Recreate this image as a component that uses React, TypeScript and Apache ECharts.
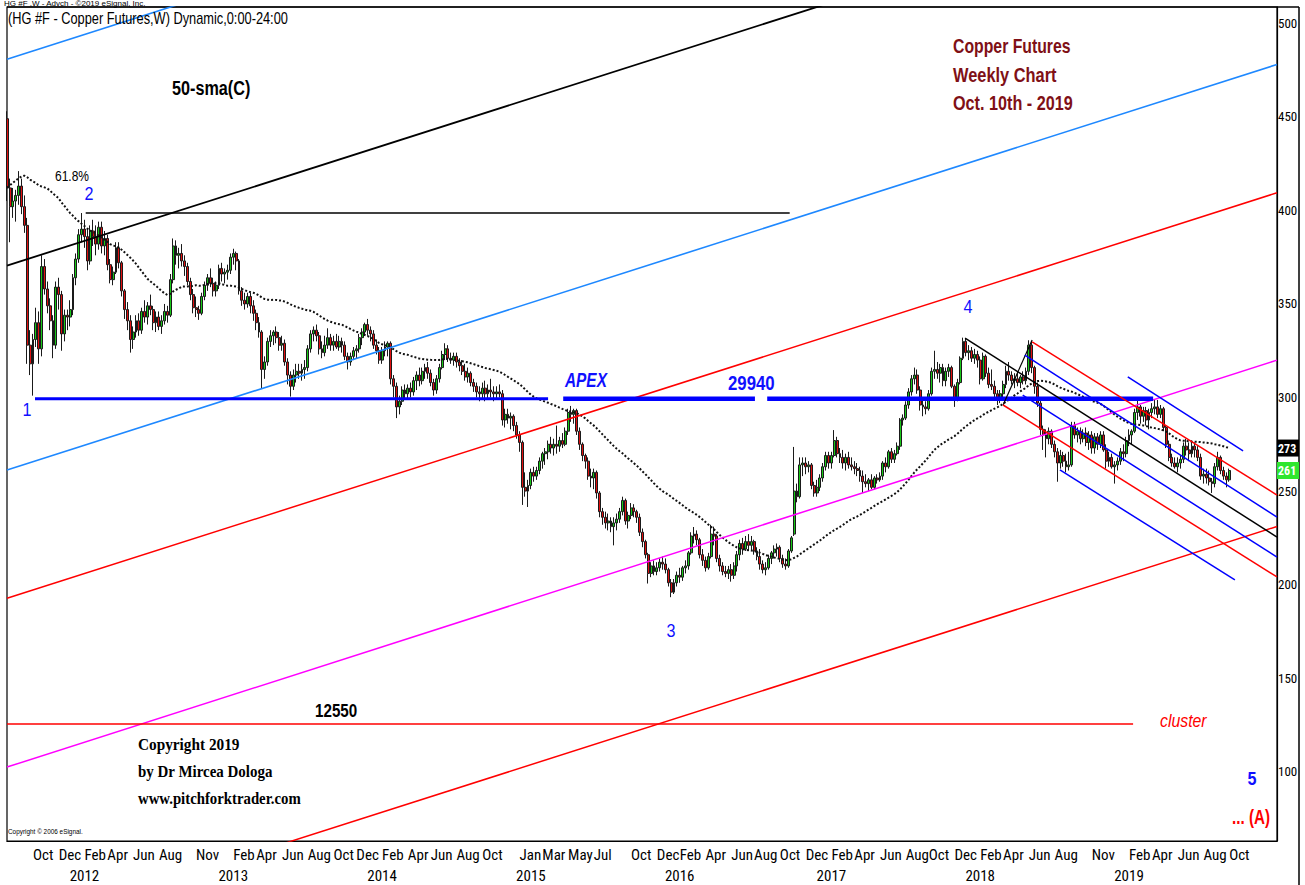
import React, { useEffect, useRef } from "react";
import * as echarts from "echarts";

// ---------------- DATA ----------------
// Weekly bars start Monday 2011-08-01; values in cents/lb, each row = [open, high, low, close]
const FIRST_BAR = "2011-08-01";

const ohlc2011 = [
  [449,453,405,412],[412,417,383,402],[402,412,396,405],[405,411,394,408],[408,421,403,413],
  [413,417,398,402],[402,408,388,392],[392,396,318,328],[328,336,312,318],[318,334,301,331],
  [331,348,327,340],[340,346,318,326],[326,376,322,370],[370,374,355,358],[358,362,345,349],
  [349,353,336,341],[341,344,321,328],[328,362,326,359],[359,364,347,355],[355,357,325,334],
  [334,347,330,344],[344,347,336,343],
];
const ohlc2012 = [
  [343,352,338,347],[347,366,344,364],[364,377,360,374],[374,390,372,387],[387,398.6,383,390],
  [390,395,380,386],[386,390,368,373],[373,392,371,389],[389,395,381,386],[386,392,376,382],
  [382,394,379,391],[391,394,377,381],[381,389,376,385],[385,387,368,371],[371,374,361,363],
  [363,370,360,367],[367,383,366,380],[380,383,369,372],[372,373,354,357],[357,358,342,347],
  [347,351,336,341],[341,344,324,331],[331,338,326,335],[335,344,332,341],[341,345,333,336],
  [336,348,334,346],[346,352,340,343],[343,351,339,349],[349,355,344,347],[347,349,336,340],
  [340,346,335,343],[343,346,336,338],[338,344,334,341],[341,350,339,346],[346,349,340,344],
  [344,366,343,363],[363,385,361,381],[381,384,371,376],[376,380,369,377],[377,382,370,373],
  [373,376,365,370],[370,372,360,362],[362,364,352,355],[355,358,345,348],[348,354,343,347],
  [347,349,341.5,345],[345,356,344,354],[354,362,352,360],[360,366,357,364],[364,369,359,361],
  [361,364,354,357],[357,362,354,360],
];
const ohlc2013 = [
  [360,371,358,369],[369,372,362,366],[366,369,361,367],[367,371,363,368],[368,377,366,375],
  [375,379.5,371,377],[377,378,368,373],[373,374,355,357],[357,359,349,352],[352,356,347,350],
  [350,356,348,354],[354,356,345,349],[349,352,341,345],[345,347,336,340],[340,343,332,335],
  [335,336,305,315],[315,322,310,319],[319,332,317,330],[330,336,327,333],[333,336,328,335],
  [335,338,329,332],[332,335,325,328],[328,333,325,329],[329,331,317,319],[319,321,307,312],
  [312,314,300.5,306],[306,315,304,312],[312,318,308,314],[314,318,310,313],[313,318,309,315],
  [315,320,310,316],[316,328,314,326],[326,336,324,334],[334,338,330,336],[336,339,330,333],
  [333,335,323,326],[326,330,321,324],[324,333,322,328],[328,337,326,332],[332,334,325,328],
  [328,333,325,330],[330,334,326,327],[327,333,325,330],[330,332,324,328],[328,330,320,322],
  [322,324,315,319],[319,324,317,322],[322,327,320,325],[325,328,321,326],[326,334,324,332],
  [332,337,328,335],[335,340,333,339],
];
const ohlc2014 = [
  [339,342,333,336],[336,338,330,334],[334,336,326,328],[328,331,323,325],[325,327,318,320],
  [320,327,318,325],[325,330,322,327],[327,330,322,329],[329,330,307,310],[310,312,300,306],
  [306,308,289,295],[295,301,291,298],[298,306,296,304],[304,307,299,302],[302,307,299,305],
  [305,308,300,303],[303,311,301,309],[309,314,304,312],[312,316,306,309],[309,316,307,314],
  [314,318,310,316],[316,319,310,313],[313,315,306,308],[308,310,301,304],[304,312,302,310],
  [310,318,308,316],[316,325,315,323],[323,329,320,326],[326,328,319,321],[321,324,318,320],
  [320,324,317,322],[322,324,316,319],[319,321,314,317],[317,320,312,314],[314,318,309,311],
  [311,316,308,313],[313,314,306,308],[308,310,303,306],[306,308,300,303],[303,306,298,302],
  [302,308,299,305],[305,309,298,302],[302,307,299,304],[304,310,300,303],[303,306,298,302],
  [302,306,299,303],[303,307,300,302],[302,304,285,288],[288,294,284,291],[291,294,286,289],
  [289,292,283,290],[290,291,282,285],
];
const ohlc2015 = [
  [285,287,278,280],[280,282,271,276],[276,277,242.6,252],[252,260,247,250],[250,256,241.5,253],
  [253,262,251,260],[260,263,255,258],[258,263,256,261],[261,268,259,266],[266,271,262,270],
  [270,273,264,271],[271,277,267,275],[275,279,270,273],[273,278,269,275],[275,285,270,274],
  [274,279,271,277],[277,281,273,275],[275,284,274,282],[282,294,280,292],[292,295.5,287,291],
  [291,294,286,293],[293,294,280,282],[282,284,272,275],[275,276,266,269],[269,270,262,266],
  [266,268,256,258],[258,262,252,257],[257,262,251,260],[260,261,246,249],[249,250,236,239],
  [239,241,232,236],[236,239,230,233],[233,238,229,234],[234,236,228,231],[231,236,221,233],
  [233,238,229,235],[235,241,233,239],[239,247,237,245],[245,246,232,234],[234,239,230,237],
  [237,243.6,235,241],[241,243,236,239],[239,240,233,236],[236,238,226,228],[228,230,220,223],
  [223,224,214,216],[216,217,200.6,206],[206,212,204,210],[210,213,205,207],[207,212,205,209],
  [209,214,207,212],[212,215,208,211],
];
const ohlc2016 = [
  [211,214,206,208],[208,209,199,201],[201,203,193.3,196],[196,203,195,201],[201,207,199,205],
  [205,209,201,204],[204,210,202,209],[209,213,206,210],[210,218,208,217],[217,228,216,226],
  [226,230.8,222,227],[227,229,221,224],[224,225,214,216],[216,219,210,213],[213,215,207,209],
  [209,217,208,215],[215,232,214,227],[227,231,221,226],[226,227,212,214],[214,216,207,210],
  [210,212,205,207],[207,210,204,206],[206,210,203,208],[208,211,201.6,205],[205,212,203,210],
  [210,218,207,216],[216,224,213,222],[222,225,216,219],[219,226,218,223],[223,227,218,221],
  [221,226,218,223],[223,224,216,218],[218,220,213,215],[215,219,208,211],[211,213,206,208],
  [208,212,205,209],[209,216,208,214],[214,218,211,217],[217,221,214,219],[219,222,215,220],
  [220,221,212,214],[214,216,209,211],[211,214,208,210],[210,219,209,218],[218,226,217,225],
  [227,273.6,226,250],[250,254,244,247],[247,268,246,264],[264,268,258,265],[265,268,259,263],
  [263,266,260,264],[264,265,251,253],[253,255,247,249],
];
const ohlc2017 = [
  [249,256,247,252],[252,259,250,257],[257,265,255,263],[263,271,261,269],[269,271,262,265],
  [265,271,262,269],[269,282.6,268,277],[277,279,268,270],[270,273,265,268],[268,272,262,265],
  [265,270,261,268],[268,271,262,264],[264,268,261,263],[263,266,259,262],[262,265,258,261],
  [261,263,255,258],[258,261,249,255],[255,259,252,254],[254,257,250,256],[256,259,251,252],
  [252,258,251,257],[257,259,254,256],[256,260,255,258],[258,266,256,265],[265,268,260,263],
  [263,272,262,271],[271,273,265,267],[267,272,265,270],[270,276,269,274],[274,289,272,288],
  [288,291,285,289],[289,298,288,296],[296,305,294,303],[303,312,301,310],[310,316,307,312],
  [312,315,302,304],[304,306,293,296],[296,299,290,295],[295,298,291,294],[294,304,293,302],
  [302,316,301,314],[314,325,310,315],[315,319,310,313],[313,318,308,316],[316,318,306,309],
  [309,316,306,314],[314,318,311,316],[316,317,305,306],[306,307,295,299],[299,310,298,308],
  [308,322,307,321],[321,332,320,330],
];
const ohlc2018 = [
  [330,331.7,322,324],[324,328,320,325],[325,327,319,321],[321,326,318,323],[323,325,316,320],
  [320,322,307,310],[310,324,309,322],[322,323,311,313],[313,316,305,307],[307,315,304,306],
  [306,309,300,302],[302,304,296,299],[299,304,297,302],[302,309,300,307],[307,317,305,314],
  [314,319,309,312],[312,314,307,309],[309,313,305,310],[310,313,306,308],[308,312,305,311],
  [311,314,307,309],[309,316,307,314],[314,330.6,312,328],[328,330,313,316],[316,317,302,306],
  [306,308,295,297],[297,299,280,283],[283,285,272,280],[280,283,268,278],[278,284,275,282],
  [282,283,273,275],[275,277,268,271],[271,273,255,265],[265,272,262,269],[269,271,263,266],
  [266,270,260,263],[263,271,261,264],[264,287,263,285],[285,287,278,280],[280,284,276,282],
  [282,284,275,278],[278,283,276,281],[281,284,274,276],[276,282,272,280],[280,282,270,273],
  [273,281,270,279],[279,281,272,275],[275,282,273,280],[280,282,271,272],[272,275,262,266],
  [266,271,263,268],[268,270,262,263],
];
const ohlc2019 = [
  [263,266,254,264],[264,268,261,266],[266,273,264,271],[271,275,266,270],[270,279,268,277],
  [277,283,274,280],[280,283,275,282],[282,294,281,292],[292,299,288,295],[295,296,286,290],
  [290,295,287,293],[293,295,285,288],[288,294,283,292],[292,297,289,294],[294,299,291,295],
  [295,298.7,289,291],[291,296,289,294],[294,295,282,284],[284,285,273,275],[275,277,266,268],
  [268,270,263,265],[265,268,262,263],[263,268,260,265],[265,269,262,267],[267,276,265,274],
  [274,278,269,272],[272,276,266,270],[270,277,268,274],[274,276,268,272],[272,274,266,268],
  [268,270,256,258],[258,262,254,259],[259,262,254,257],[257,261,253,255],[255,257,249,254],
  [254,265,252,263],[263,271,261,268],[268,269,259,261],[261,263,256,258],[258,260,252,256],
  [256,262,255,261],
];
// weekly closes of the 49 weeks before the first bar (needed for the 50-week SMA)
const smaHistory = [
  334,342,348,352,358,366,372,380,378,383,392,398,382,378,400,408,414,428,444,436,
  442,438,438,456,452,456,446,442,436,426,434,436,442,430,426,432,404,400,408,412,
  416,412,404,412,428,440,442,444,449,
];
const SMA_PERIOD = 50;

const monthTicks = [
  "2011-10","2011-12","2012-02","2012-04","2012-06","2012-08","2012-11",
  "2013-02","2013-04","2013-06","2013-08","2013-10","2013-12",
  "2014-02","2014-04","2014-06","2014-08","2014-10",
  "2015-01","2015-03","2015-05","2015-07","2015-10","2015-12",
  "2016-02","2016-04","2016-06","2016-08","2016-10","2016-12",
  "2017-02","2017-04","2017-06","2017-08","2017-10","2017-12",
  "2018-02","2018-04","2018-06","2018-08","2018-11",
  "2019-02","2019-04","2019-06","2019-08","2019-10",
];
const yearTicks = [2012, 2013, 2014, 2015, 2016, 2017, 2018, 2019];
const priceTicks = [100, 150, 200, 250, 300, 350, 400, 450, 500];
const priceTags = [273, 261]; // last SMA value, last close
const X_RANGE = ["2011-07-31T12", "2020-02-01"];
const Y_RANGE = [63, 508.7];

// parallel channel lines: value at left edge and at right edge of the chart
const channelLines = [
  { color: "#1e88ff", width: 1.6, start: 480.8, end: 697.5 },
  { color: "#000000", width: 1.8, start: 370.5, end: 587.2 },
  { color: "#1e88ff", width: 1.6, start: 261.3, end: 478.0 },
  { color: "#ff0000", width: 1.5, start: 192.7, end: 409.4 },
  { color: "#ff00ff", width: 1.5, start: 102.5, end: 320.0 },
  { color: "#ff0000", width: 1.5, start: 14.4, end: 231.1 },
];
// segments: [date, value] -> [date, value]
const segmentLines = [
  { color: "#000000", width: 1.3, from: ["2012-02-09", 398.6], to: ["2016-10-27", 398.6] },
  { color: "#0000ff", width: 3, from: ["2011-10-08", 299.4], to: ["2015-03-16", 299.4] },
  { color: "#0000ff", width: 4.5, from: ["2015-04-22", 299.4], to: ["2016-08-03", 299.4] },
  { color: "#0000ff", width: 4.5, from: ["2016-09-02", 299.4], to: ["2019-04-04", 299.4] },
  { color: "#ff0000", width: 1.4, from: ["2011-07-31T12", 125.5], to: ["2019-02-14", 125.5] },
  // pitchfork
  { color: "#000000", width: 1.5, from: ["2017-12-30", 331.8], to: ["2020-02-01", 225.4] },
  { color: "#000000", width: 1.2, from: ["2018-04-02", 296.0], to: ["2018-06-12", 330.7] },
  { color: "#ff0000", width: 1.5, from: ["2018-06-12", 329.7], to: ["2020-02-01", 247.9] },
  { color: "#ff0000", width: 1.5, from: ["2018-04-02", 296.0], to: ["2020-02-01", 204.1] },
  { color: "#0000ff", width: 1.5, from: ["2018-05-25", 322.7], to: ["2020-02-01", 236.1] },
  { color: "#0000ff", width: 1.5, from: ["2018-05-20", 301.3], to: ["2020-02-01", 214.7] },
  { color: "#0000ff", width: 1.5, from: ["2019-02-01", 311.0], to: ["2019-11-10", 271.5] },
  { color: "#0000ff", width: 1.5, from: ["2018-08-19", 261.3], to: ["2019-10-21", 202.5] },
];

// ---------------- BUILD ----------------
const DAY = 86400000;
function utc(s: string): number {
  const [d, h] = s.split("T");
  const [y, m, dd] = d.split("-").map(Number);
  return Date.UTC(y, m - 1, dd, h ? Number(h) : 0);
}
const MONTHS = ["Jan","Feb","Mar","Apr","May","Jun","Jul","Aug","Sep","Oct","Nov","Dec"];

const bars = [...ohlc2011, ...ohlc2012, ...ohlc2013, ...ohlc2014, ...ohlc2015, ...ohlc2016, ...ohlc2017, ...ohlc2018, ...ohlc2019];
const t0 = utc(FIRST_BAR);
const weekTimes = bars.map((_, i) => t0 + i * 7 * DAY);
const candleData = bars.map(([o, h, l, c], i) => [weekTimes[i], o, c, l, h]);
const closes = bars.map((b) => b[3]);
const smaSrc = [...smaHistory, ...closes];
const smaData = closes.map((_, i) => {
  const end = i + smaHistory.length;
  let s = 0;
  for (let k = end - SMA_PERIOD + 1; k <= end; k++) s += smaSrc[k];
  return [weekTimes[i], +(s / SMA_PERIOD).toFixed(2)];
});
function firstBarOf(y: number, m: number): number {
  const t = weekTimes.find((w) => {
    const d = new Date(w);
    return d.getUTCFullYear() === y && d.getUTCMonth() === m;
  });
  return t as number;
}
const monthValues = monthTicks.map((s) => {
  const [y, m] = s.split("-").map(Number);
  return firstBarOf(y, m - 1);
});
const yearValues = yearTicks.map((y) => firstBarOf(y, 1));
const X_MIN = utc(X_RANGE[0]);
const X_MAX = utc(X_RANGE[1]);

const NARROW = "'Liberation Sans Narrow', 'Arial Narrow', 'Roboto Condensed', 'DejaVu Sans Condensed', 'Liberation Sans', sans-serif";
const SANS = "'Liberation Sans', Arial, sans-serif";
const SERIF = "'Liberation Serif', 'Times New Roman', serif";

function lineSeries(data: any[], color: string, width: number) {
  return {
    type: "line",
    data,
    symbol: "none",
    silent: true,
    clip: true,
    z: 4,
    lineStyle: { color, width },
    animation: false,
  };
}

const trendSeries = [
  ...channelLines.map((l) => lineSeries([[X_MIN, l.start], [X_MAX, l.end]], l.color, l.width)),
  ...segmentLines.map((l) =>
    lineSeries([[utc(l.from[0] as string), l.from[1]], [utc(l.to[0] as string), l.to[1]]], l.color, l.width)
  ),
];

function txt(text: string, x: number, y: number, o: any = {}) {
  return {
    type: "text",
    x,
    y,
    scaleX: o.scaleX ?? 0.8,
    silent: true,
    z: 100,
    style: {
      text,
      fill: o.color ?? "#000",
      font: `${o.style ?? "normal"} ${o.weight ?? "normal"} ${o.size ?? 16}px ${o.family ?? SANS}`,
      align: o.align ?? "left",
      verticalAlign: o.va ?? "middle",
      textAlign: o.align ?? "left",
      textVerticalAlign: o.va ?? "middle",
    },
  };
}

const BLUE = "#1010ff";
const DARKRED = "#7f1016";

const graphics = [
  { type: "line", silent: true, shape: { x1: 7, y1: 7, x2: 1299, y2: 7 }, style: { stroke: "#000", lineWidth: 1.5 } },
  { type: "line", silent: true, shape: { x1: 1299, y1: 7, x2: 1299, y2: 885 }, style: { stroke: "#000", lineWidth: 1.5 } },
  txt("HG #F ,W - Advch - \u00a92019 eSignal, Inc.", 4, 3.5, { size: 8, scaleX: 1 }),
  txt("(HG #F - Copper Futures,W) Dynamic,0:00-24:00", 8, 18, { size: 16 }),
  txt("50-sma(C)", 172, 88, { size: 20, weight: "bold", scaleX: 0.81 }),
  txt("61.8%", 55, 176, { size: 15 }),
  txt("2", 89, 194, { size: 19, color: BLUE, align: "center", scaleX: 0.85 }),
  txt("1", 27, 410, { size: 19, color: BLUE, align: "center", scaleX: 0.85 }),
  txt("3", 671, 631, { size: 19, color: BLUE, align: "center", scaleX: 0.85 }),
  txt("4", 968, 307, { size: 19, color: BLUE, align: "center", scaleX: 0.85 }),
  txt("5", 1252, 779, { size: 19, color: BLUE, align: "center", weight: "bold", scaleX: 0.85 }),
  txt("APEX", 565, 380, { size: 20, weight: "bold", style: "italic", color: BLUE, scaleX: 0.77 }),
  txt("29940", 728, 383, { size: 21, weight: "bold", color: BLUE, scaleX: 0.8 }),
  txt("12550", 315, 710, { size: 19, weight: "bold", scaleX: 0.8 }),
  txt("cluster", 1160, 721, { size: 18, style: "italic", color: "#ff0000", scaleX: 0.88 }),
  txt("... (A)", 1232, 817, { size: 20, weight: "bold", color: "#ff0000", scaleX: 0.76 }),
  txt("Copper Futures", 953, 46, { size: 20, weight: "bold", color: DARKRED, scaleX: 0.79 }),
  txt("Weekly Chart", 953, 75, { size: 20, weight: "bold", color: DARKRED, scaleX: 0.82 }),
  txt("Oct. 10th - 2019", 953, 103, { size: 20, weight: "bold", color: DARKRED, scaleX: 0.81 }),
  txt("Copyright 2019", 138, 744, { size: 17, weight: "bold", family: SERIF, scaleX: 0.9 }),
  txt("by Dr Mircea Dologa", 138, 771, { size: 17, weight: "bold", family: SERIF, scaleX: 0.88 }),
  txt("www.pitchforktrader.com", 138, 798, { size: 17, weight: "bold", family: SERIF, scaleX: 0.87 }),
  txt("Copyright \u00a9 2006 eSignal.", 8, 831, { size: 8 }),
];

const option: any = {
  animation: false,
  backgroundColor: "#ffffff",
  grid: {
    left: 7, top: 7, width: 1270, height: 834,
    show: true, borderColor: "#000", borderWidth: 1.2,
    containLabel: false, outerBoundsMode: "none",
  },
  xAxis: [
    {
      type: "value", min: X_MIN, max: X_MAX, position: "bottom",
      axisLine: { show: true, lineStyle: { color: "#000", width: 1.2 } },
      axisTick: { show: false }, splitLine: { show: false },
      axisLabel: {
        customValues: monthValues, align: "left", margin: 6, color: "#000",
        fontSize: 15, fontFamily: NARROW, hideOverlap: false,
        formatter: (v: number) => MONTHS[new Date(v).getUTCMonth()],
      },
    },
    {
      type: "value", min: X_MIN, max: X_MAX, position: "bottom",
      axisLine: { show: false }, axisTick: { show: false }, splitLine: { show: false },
      axisLabel: {
        customValues: yearValues, align: "center", margin: 27, color: "#000",
        fontSize: 15, fontFamily: NARROW, hideOverlap: false,
        formatter: (v: number) => String(new Date(v).getUTCFullYear()),
      },
    },
  ],
  yAxis: [
    {
      type: "value", position: "right", min: Y_RANGE[0], max: Y_RANGE[1],
      axisLine: { show: true, lineStyle: { color: "#000", width: 1.2 } },
      axisTick: { show: false }, splitLine: { show: false },
      axisLabel: { customValues: priceTicks, margin: 1, color: "#000", fontSize: 13, fontFamily: NARROW, hideOverlap: false },
    },
    {
      type: "value", position: "right", min: Y_RANGE[0], max: Y_RANGE[1],
      axisLine: { show: false }, axisTick: { show: false }, splitLine: { show: false },
      axisLabel: {
        customValues: priceTags, margin: 0, hideOverlap: false,
        formatter: (v: number) => (v === priceTags[0] ? `{sma|${v}}` : `{last|${v}}`),
        rich: {
          sma: { backgroundColor: "#000", color: "#fff", fontSize: 12, fontWeight: "bold", fontFamily: NARROW, padding: [3, 0, 2, 1], width: 21 },
          last: { backgroundColor: "#2ee62e", color: "#fff", fontSize: 12, fontWeight: "bold", fontFamily: NARROW, padding: [3, 0, 2, 1], width: 21 },
        },
      },
    },
  ],
  series: [
    {
      type: "candlestick",
      data: candleData,
      encode: { x: 0, y: [1, 2, 3, 4] },
      barWidth: 2.4,
      clip: true,
      z: 2,
      silent: true,
      itemStyle: {
        color: "#18c818", color0: "#e01010",
        borderColor: "#1a1a1a", borderColor0: "#1a1a1a", borderWidth: 1,
      },
    },
    {
      type: "line",
      data: smaData,
      symbol: "none",
      silent: true,
      z: 3,
      lineStyle: { color: "#111", width: 2, type: [2, 2] },
    },
    ...trendSeries,
  ],
  graphic: graphics,
};

export default function App() {
  const ref = useRef<HTMLDivElement>(null);
  useEffect(() => {
    const el = ref.current;
    if (!el) return;
    const chart = echarts.init(el, undefined, { renderer: "svg" });
    chart.setOption(option);
    return () => chart.dispose();
  }, []);
  return (
    <div
      ref={ref}
      style={{ position: "absolute", left: 0, top: 0, width: 1305, height: 885, background: "#fff" }}
    />
  );
}
